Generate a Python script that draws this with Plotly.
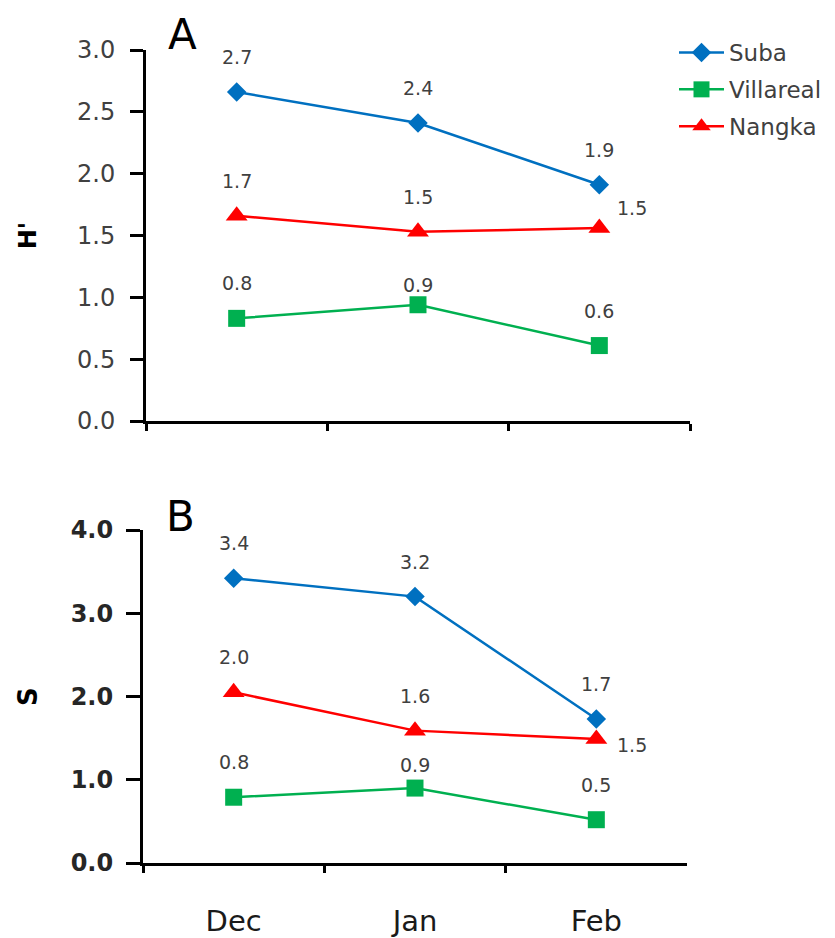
import plotly.graph_objects as go

# ---------------- data ----------------
months = ["Dec", "Jan", "Feb"]
series_names = ["Suba", "Villareal", "Nangka"]

# Panel A: Shannon diversity H'
h_suba = [2.66, 2.41, 1.91]
h_villareal = [0.83, 0.94, 0.61]
h_nangka = [1.66, 1.53, 1.56]
h_suba_lbl = ["2.7", "2.4", "1.9"]
h_villareal_lbl = ["0.8", "0.9", "0.6"]
h_nangka_lbl = ["1.7", "1.5", "1.5"]

# Panel B: species richness S
s_suba = [3.42, 3.20, 1.73]
s_villareal = [0.79, 0.90, 0.52]
s_nangka = [2.05, 1.59, 1.49]
s_suba_lbl = ["3.4", "3.2", "1.7"]
s_villareal_lbl = ["0.8", "0.9", "0.5"]
s_nangka_lbl = ["2.0", "1.6", "1.5"]

h_ticks = [0, 0.5, 1.0, 1.5, 2.0, 2.5, 3.0]
s_ticks = [0, 1.0, 2.0, 3.0, 4.0]

# ---------------- styles ----------------
W, H = 835, 938
OFF = 8  # page body margin compensation (px)


def px_x(v):
    return (v - OFF) / W


def px_y(v):
    return 1 - (v - OFF) / H


colors = {"Suba": "#0070C0", "Villareal": "#00B050", "Nangka": "#FF0000"}
symbols = {"Suba": "diamond", "Villareal": "square", "Nangka": "triangle-up"}
msize = {"Suba": 15, "Villareal": 17, "Nangka": 19}

FONT = "DejaVu Sans"
LBL_COLOR = "#404040"

fig = go.Figure()

panels = [
    ("x", "y", {"Suba": (h_suba, h_suba_lbl), "Villareal": (h_villareal, h_villareal_lbl),
                "Nangka": (h_nangka, h_nangka_lbl)}, True),
    ("x2", "y2", {"Suba": (s_suba, s_suba_lbl), "Villareal": (s_villareal, s_villareal_lbl),
                  "Nangka": (s_nangka, s_nangka_lbl)}, False),
]

# label offsets (pixels) per panel / series / month: (xshift, yshift)
offsets = {
    ("x", "Nangka"): [(0, 35), (0, 35), (33, 20)],
    ("x", "Villareal"): [(0, 35), (0, 20), (0, 35)],
    ("x2", "Nangka"): [(0, 35), (0, 35), (36, -6)],
    ("x2", "Villareal"): [(0, 35), (0, 23), (0, 35)],
}

annotations = []
for xr, yr, data, show_leg in panels:
    for name in series_names:
        vals, lbls = data[name]
        fig.add_trace(go.Scatter(
            x=months, y=vals, name=name, xaxis=xr, yaxis=yr,
            mode="lines+markers",
            line=dict(color=colors[name], width=2.5),
            marker=dict(symbol=symbols[name], size=msize[name], color=colors[name],
                        line=dict(width=0)),
            showlegend=show_leg, legendgroup=name, cliponaxis=False,
        ))
        offs = offsets.get((xr, name), [(0, 35)] * 3)
        for m, v, t, (dx, dy) in zip(months, vals, lbls, offs):
            annotations.append(dict(
                x=m, y=v, xref=xr, yref=yr, text=t, showarrow=False,
                xshift=dx, yshift=dy, xanchor="center", yanchor="middle",
                font=dict(family=FONT, size=19, color=LBL_COLOR),
            ))

# panel letters
annotations.append(dict(x=px_x(182), y=px_y(34), xref="paper", yref="paper", text="A",
                        showarrow=False, xanchor="center", yanchor="middle",
                        font=dict(family=FONT, size=42, color="#000000")))
annotations.append(dict(x=px_x(180), y=px_y(516), xref="paper", yref="paper", text="B",
                        showarrow=False, xanchor="center", yanchor="middle",
                        font=dict(family=FONT, size=42, color="#000000")))

axis_common = dict(showline=True, linecolor="#000000", linewidth=3, showgrid=False,
                   zeroline=False, ticks="outside", tickcolor="#000000", tickwidth=3,
                   automargin=False)

fig.update_layout(
    width=W, height=H,
    margin=dict(l=0, r=0, t=0, b=0, pad=0),
    paper_bgcolor="white", plot_bgcolor="white",
    annotations=annotations,
    showlegend=True,
    legend=dict(x=px_x(674), y=px_y(31), xanchor="left", yanchor="top",
                font=dict(family=FONT, size=23, color=LBL_COLOR), itemwidth=45,
                bgcolor="rgba(0,0,0,0)", tracegroupgap=4, traceorder="grouped"),
    xaxis=dict(axis_common, domain=[px_x(146), px_x(690)], anchor="y", type="category",
               categoryorder="array", categoryarray=months, range=[-0.5, 2.5],
               tickson="boundaries", ticklen=7, showticklabels=False),
    yaxis=dict(axis_common, domain=[px_y(421), px_y(50)], anchor="x", range=[0, 3],
               tickvals=h_ticks, tickformat=".1f", ticklen=13, ticklabelstandoff=10,
               tickfont=dict(family=FONT, size=24, color=LBL_COLOR),
               title=dict(text="<b>H'</b>", standoff=34,
                          font=dict(family=FONT, size=24, color="#000000"))),
    xaxis2=dict(axis_common, domain=[px_x(143), px_x(687)], anchor="y2", type="category",
                categoryorder="array", categoryarray=months, range=[-0.5, 2.5],
                tickson="boundaries", ticklen=7, ticklabelstandoff=30,
                tickfont=dict(family=FONT, size=29, color="#1a1a1a")),
    yaxis2=dict(axis_common, domain=[px_y(863), px_y(530)], anchor="x2", range=[0, 4],
                tickvals=s_ticks, tickformat=".1f", ticklen=14, ticklabelstandoff=8,
                tickfont=dict(family=FONT, size=24, color="#262626", weight="bold"),
                title=dict(text="<b>S</b>", standoff=26,
                           font=dict(family=FONT, size=26, color="#000000"))),
)

fig.write_html("out.html")
